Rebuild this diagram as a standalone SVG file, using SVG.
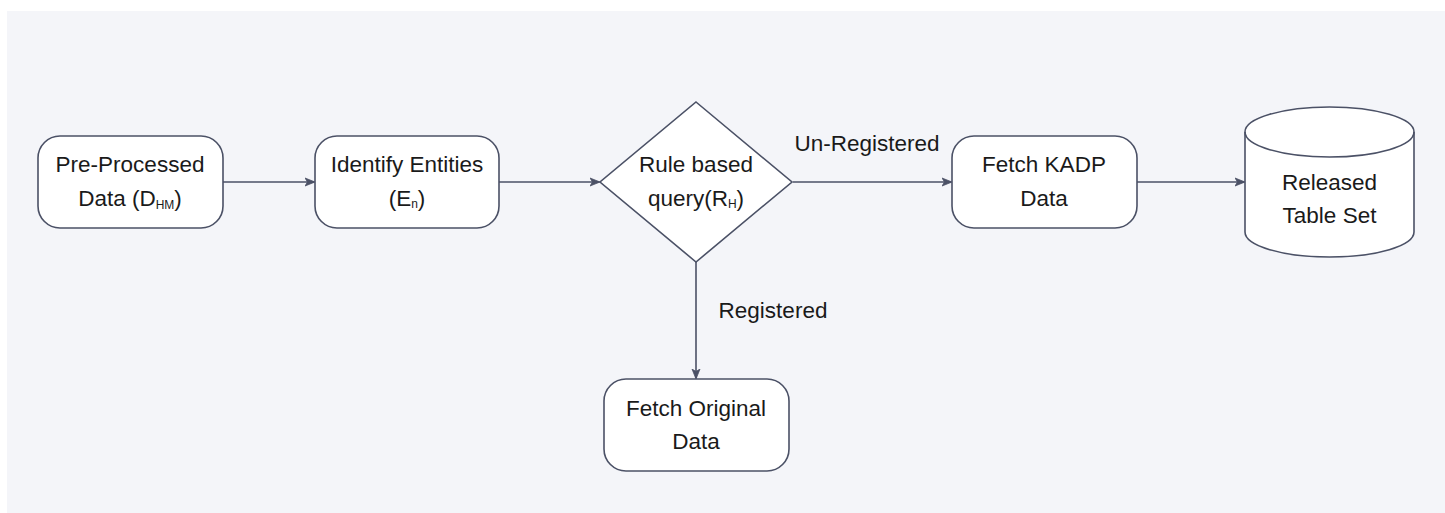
<svg xmlns="http://www.w3.org/2000/svg" width="1445" height="513" viewBox="0 0 1445 513">
<defs>
<style>
.shape{fill:#ffffff;stroke:#4b5166;stroke-width:1.6}
.edge{fill:none;stroke:#4b5166;stroke-width:1.6}
.t{font-family:"Liberation Sans",Arial,sans-serif;font-size:22.5px;fill:#1a1a1a;text-anchor:middle}
.sub{font-size:12px}
</style>
<marker id="arr" viewBox="0 0 10 10" refX="9" refY="5" markerWidth="10" markerHeight="10" markerUnits="userSpaceOnUse" orient="auto">
<path d="M0,1 L10,5 L0,9 L2.5,5 Z" fill="#4b5166" stroke="#4b5166" stroke-width="0.8"/>
</marker>
</defs>
<rect x="0" y="0" width="1445" height="513" fill="#ffffff"/>
<rect x="7" y="11" width="1438" height="502" fill="#f4f5f9"/>
<g id="connectors">
<path class="edge" d="M223,182 L314,182" marker-end="url(#arr)"/>
<path class="edge" d="M499,182 L599,182" marker-end="url(#arr)"/>
<path class="edge" d="M793,182 L951,182" marker-end="url(#arr)"/>
<path class="edge" d="M1137,182 L1244,182" marker-end="url(#arr)"/>
<path class="edge" d="M696,262 L696,378" marker-end="url(#arr)"/>
<text class="t" x="867" y="151">Un-Registered</text>
<text class="t" x="773" y="318">Registered</text>
</g>
<g id="pre-processed">
<rect class="shape" x="38" y="136" width="185" height="92" rx="22"/>
<text class="t" x="130" y="172">Pre-Processed</text>
<text class="t" x="130" y="206">Data (D<tspan class="sub" dy="3">HM</tspan><tspan dy="-3">)</tspan></text>
</g>
<g id="identify-entities">
<rect class="shape" x="315" y="136" width="184" height="92" rx="22"/>
<text class="t" x="407" y="172">Identify Entities</text>
<text class="t" x="407" y="206">(E<tspan class="sub" dy="2">n</tspan><tspan dy="-2">)</tspan></text>
</g>
<g id="rule-query">
<path class="shape" d="M696,102 L792,182 L696,262 L600,182 Z"/>
<text class="t" x="696" y="172">Rule based</text>
<text class="t" x="696" y="206">query(R<tspan class="sub" font-size="9" dy="2">H</tspan><tspan dy="-2">)</tspan></text>
</g>
<g id="fetch-kadp">
<rect class="shape" x="952" y="136" width="185" height="92" rx="22"/>
<text class="t" x="1044" y="172">Fetch KADP</text>
<text class="t" x="1044" y="206">Data</text>
</g>
<g id="released-table-set">
<path class="shape" d="M1245,132 A84.5,25 0 0 1 1414,132 L1414,232 A84.5,25 0 0 1 1245,232 Z"/>
<path class="shape" style="fill:none" d="M1245,132 A84.5,25 0 0 0 1414,132"/>
<text class="t" x="1329.5" y="190">Released</text>
<text class="t" x="1329.5" y="223">Table Set</text>
</g>
<g id="fetch-original">
<rect class="shape" x="604" y="379" width="185" height="92" rx="22"/>
<text class="t" x="696" y="416">Fetch Original</text>
<text class="t" x="696" y="449">Data</text>
</g>
</svg>
